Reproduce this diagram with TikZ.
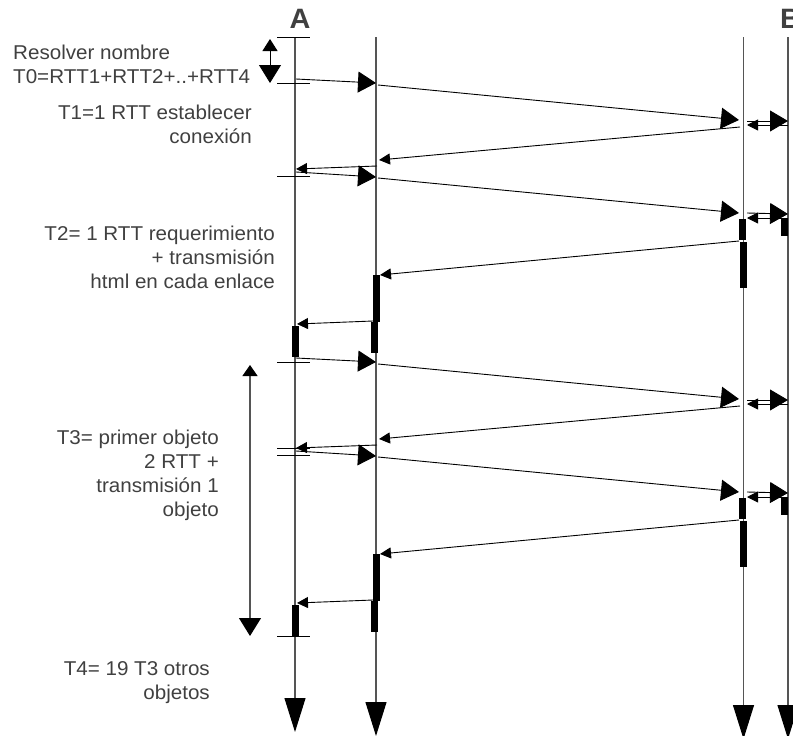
\documentclass[tikz,border=0pt]{standalone}
\usepackage{fontspec}
\setmainfont[FakeStretch=1.03]{Liberation Sans}
\usetikzlibrary{arrows.meta}
\definecolor{txt}{HTML}{404040}
\definecolor{lifec}{HTML}{555555}
\begin{document}
\begin{tikzpicture}[x=1pt,y=-1pt,
  msg/.style={draw=black,line width=0.9pt},
  big/.style={-{Triangle[length=18pt,width=21pt]}},
  small/.style={-{Triangle[length=11pt,width=11pt]}},
  life/.style={draw=lifec,line width=1.1pt,-{Triangle[length=34pt,width=21pt,black]}},
  tick/.style={draw=black,line width=0.9pt},
  busy/.style={fill=black},
  lbl/.style={text=txt,font=\fontsize{20}{24}\selectfont,inner sep=0pt,align=right},
  headlbl/.style={text=txt,font=\fontsize{28}{30}\selectfont\bfseries,inner sep=0pt}]

\useasboundingbox (0,0) rectangle (793,736);

% lifelines
\coordinate (At) at (295,37);   \coordinate (Ab) at (295,732);
\coordinate (Ct) at (376,37);   \coordinate (Cb) at (376,736);
\coordinate (Dt) at (743.5,37); \coordinate (Db) at (743.5,739);
\coordinate (Bt) at (788,37);   \coordinate (Bb) at (788,739);
\draw[life] (At) -- (Ab);
\draw[life] (Ct) -- (Cb);
\draw[life] (Dt) -- (Db);
\draw[life] (Bt) -- (Bb);

% ticks on A
\foreach \y/\n in {37/1,83/2,176/3,362/4,448/5,455/6,636/7} {
  \coordinate (tk\n l) at (277,\y); \coordinate (tk\n r) at (310,\y);
  \draw[tick] (tk\n l) -- (tk\n r);
}

% interval arrows
\coordinate (r1) at (270,39); \coordinate (r2) at (270,83);
\draw[msg,{Triangle[length=12pt,width=15pt]}-{Triangle[length=18pt,width=22pt]}] (r1) -- (r2);
\coordinate (q1) at (250,365); \coordinate (q2) at (250,636);
\draw[draw=lifec,line width=1.1pt,{Triangle[length=11pt,width=15pt,black]}-{Triangle[length=18pt,width=22pt,black]}] (q1) -- (q2);

% message phases
\foreach \o/\p in {0/1,279/2} {
  \coordinate (m1s\p) at (296,79+\o);  \coordinate (m1e\p) at (376,83+\o);
  \coordinate (m2s\p) at (378,85+\o);  \coordinate (m2e\p) at (739,120+\o);
  \coordinate (m3s\p) at (747,121+\o); \coordinate (m3e\p) at (788,121+\o);
  \coordinate (m4s\p) at (788,125+\o); \coordinate (m4e\p) at (747,125+\o);
  \coordinate (m5s\p) at (740,127+\o); \coordinate (m5e\p) at (379,160+\o);
  \coordinate (m6s\p) at (377,166+\o); \coordinate (m6e\p) at (296,169+\o);
  \coordinate (m7s\p) at (296,172+\o); \coordinate (m7e\p) at (376,177+\o);
  \coordinate (m8s\p) at (378,178+\o); \coordinate (m8e\p) at (739,213+\o);
  \coordinate (m9s\p) at (747,213+\o); \coordinate (m9e\p) at (788,214+\o);
  \coordinate (mAs\p) at (788,218+\o); \coordinate (mAe\p) at (747,218+\o);
  \coordinate (mBs\p) at (739,241+\o); \coordinate (mBe\p) at (380,275+\o);
  \coordinate (mCs\p) at (373,321+\o); \coordinate (mCe\p) at (297,324+\o);
  \draw[msg,big]   (m1s\p) -- (m1e\p);
  \draw[msg,big]   (m2s\p) -- (m2e\p);
  \draw[msg,big]   (m3s\p) -- (m3e\p);
  \draw[msg,small] (m4s\p) -- (m4e\p);
  \draw[msg,small] (m5s\p) -- (m5e\p);
  \draw[msg,small] (m6s\p) -- (m6e\p);
  \draw[msg,big]   (m7s\p) -- (m7e\p);
  \draw[msg,big]   (m8s\p) -- (m8e\p);
  \draw[msg,big]   (m9s\p) -- (m9e\p);
  \draw[msg,small] (mAs\p) -- (mAe\p);
  \draw[msg,small] (mBs\p) -- (mBe\p);
  \draw[msg,small] (mCs\p) -- (mCe\p);
  % busy bars
  \fill[busy] (781,218+\o) rectangle (788,236+\o);
  \fill[busy] (739,219+\o) rectangle (746,240+\o);
  \fill[busy] (740,242+\o) rectangle (747,288+\o);
  \fill[busy] (373,275+\o) rectangle (380,322+\o);
  \fill[busy] (371,322+\o) rectangle (378,353+\o);
  \fill[busy] (292,326+\o) rectangle (299,357+\o);
}

% labels
\node[headlbl,anchor=base] (la) at (300,28) {A};
\node[headlbl,anchor=base west] (lb) at (780,28) {B};
\node[lbl,anchor=north west,align=left] (t0) at (13,45) {Resolver nombre\\T0=RTT1+RTT2+..+RTT4};
\node[lbl,anchor=north east] (t1) at (252,105) {T1=1 RTT establecer\\conexión};
\node[lbl,anchor=north east] (t2) at (275,226) {T2= 1 RTT requerimiento\\+ transmisión\\html en cada enlace};
\node[lbl,anchor=north east] (t3) at (219,430) {T3= primer objeto\\2 RTT +\\transmisión 1\\objeto};
\node[lbl,anchor=north east] (t4) at (210,661) {T4= 19 T3 otros\\objetos};
\end{tikzpicture}
\end{document}
